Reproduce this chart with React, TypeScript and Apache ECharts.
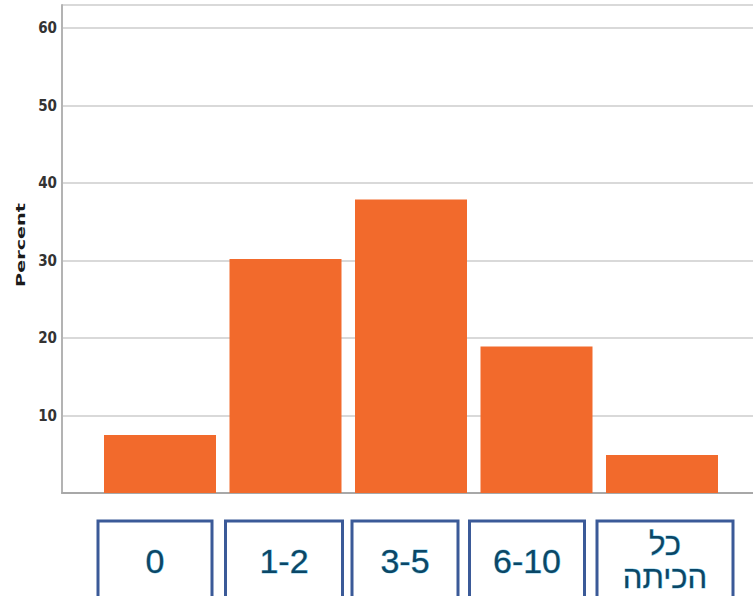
import React, { useEffect, useRef } from "react";
import * as echarts from "echarts";

const categories = ["0", "1-2", "3-5", "6-10", "כל\nהכיתה"];
const percentValues = [7.5, 30.2, 37.9, 18.9, 4.9];
const yTicks = [0, 10, 20, 30, 40, 50, 60];
const yAxisTitle = "Percent";

// label box layout (offset of box centre from category centre, box width)
const boxOffsets = [-5, -1.5, -6, -9.5, 3];
const boxWidths = [114, 117, 106, 115, 136];

export default function App() {
  const ref = useRef<HTMLDivElement>(null);
  useEffect(() => {
    if (!ref.current) return;
    const chart = echarts.init(ref.current, null, { renderer: "svg" });
    const top = 5;
    const bottom = 103;
    const yMax = 63;
    chart.setOption({
      animation: false,
      backgroundColor: "#ffffff",
      grid: [
        { left: 97.25, right: 28.25, top, bottom, outerBoundsMode: "none", containLabel: false },
        { left: 62, right: 0, top, bottom, outerBoundsMode: "none", containLabel: false },
      ],
      xAxis: [
        {
          type: "category",
          gridIndex: 0,
          data: categories.map((c, i) => {
            const s = boxOffsets[i];
            const l = s > 0 ? 2 * s : 0;
            const r = s < 0 ? -2 * s : 0;
            const twoLine = c.includes("\n");
            return {
              value: c,
              textStyle: {
                fontSize: twoLine ? 31 : 34,
                lineHeight: twoLine ? 33 : 36,
                padding: twoLine ? [7, r, 7, l] : [22, r, 22, l],
              },
            };
          }),
          axisLine: { show: false },
          axisTick: { show: false },
          axisLabel: {
            interval: 0,
            margin: 28,
            fontFamily: "Liberation Sans, Arial, sans-serif",
            fontSize: 34,
            lineHeight: 36,
            color: "#0b4766",
            align: "center",
            textBorderColor: "rgba(40,170,220,0.55)",
            textBorderWidth: 1,
          },
          splitLine: { show: false },
        },
        {
          type: "value",
          gridIndex: 1,
          min: 0,
          max: 1,
          axisLine: { show: true, onZero: false, lineStyle: { color: "#a8a8a8", width: 2 } },
          axisTick: { show: false },
          axisLabel: { show: false },
          splitLine: { show: false },
        },
      ],
      yAxis: [
        {
          type: "value",
          gridIndex: 0,
          min: 0,
          max: yMax,
          show: false,
          splitLine: { show: false },
        },
        {
          type: "value",
          gridIndex: 1,
          min: 0,
          max: yMax,
          interval: 10,
          axisLine: { show: true, lineStyle: { color: "#b3b3b3", width: 2 } },
          axisTick: { show: false },
          axisLabel: {
            margin: 5,
            fontFamily: "Liberation Sans Narrow, DejaVu Sans Condensed, sans-serif",
            fontWeight: "bold",
            fontSize: 15,
            color: "#333333",
            formatter: (v: number) => (yTicks.includes(v) && v !== 0 ? String(v) : ""),
          },
          splitLine: { show: true, lineStyle: { color: "#d9d9d9", width: 2 } },
        },
      ],
      series: [
        {
          type: "bar",
          xAxisIndex: 0,
          yAxisIndex: 0,
          data: percentValues,
          barWidth: 112,
          itemStyle: { color: "#f26a2c" },
          z: 5,
        },
      ],
    });

    const baseY = chart.convertToPixel({ yAxisIndex: 0 }, 0) as number;
    const boxes = categories.map((_, i) => {
      const cx = (chart.convertToPixel({ xAxisIndex: 0 }, i) as number) + boxOffsets[i];
      return {
        type: "rect",
        shape: { x: cx - boxWidths[i] / 2, y: baseY + 28, width: boxWidths[i], height: 90 },
        style: { fill: "none", stroke: "#3b5a98", lineWidth: 3 },
        z: 1,
      };
    });
    chart.setOption({
      graphic: [
        {
          type: "text",
          x: 21,
          y: 245,
          rotation: Math.PI / 2,
          scaleX: 1.6,
          scaleY: 1,
          style: {
            text: yAxisTitle,
            font: "bold 12px 'DejaVu Sans', sans-serif",
            fill: "#1a1a1a",
            textAlign: "center",
            textVerticalAlign: "middle",
          },
        },
        ...boxes,
      ],
    });
    return () => chart.dispose();
  }, []);
  return (
    <div
      ref={ref}
      style={{ position: "fixed", left: 0, top: 0, width: 753, height: 596 }}
    />
  );
}
